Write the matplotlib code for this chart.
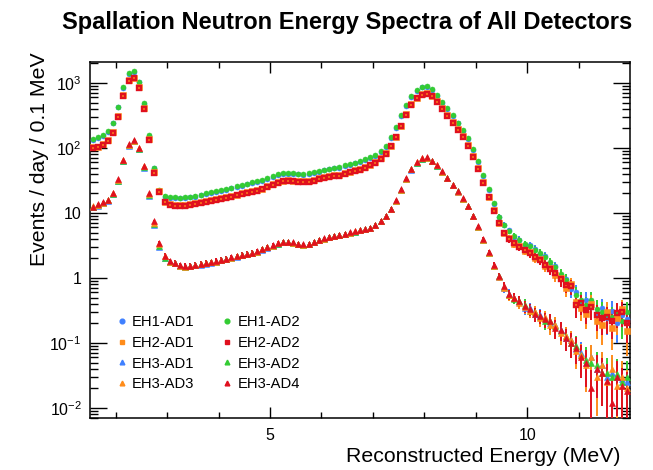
import numpy as np
import matplotlib
matplotlib.use("Agg")
import matplotlib.pyplot as plt
from matplotlib.lines import Line2D
from matplotlib.ticker import FixedLocator, FixedFormatter, NullFormatter

plt.rcParams['font.family'] = ['Liberation Sans', 'DejaVu Sans']
plt.rcParams['mathtext.fontset'] = 'custom'
plt.rcParams['mathtext.rm'] = 'Liberation Sans'
plt.rcParams['mathtext.it'] = 'Liberation Sans:italic'
plt.rcParams['mathtext.bf'] = 'Liberation Sans:bold'

# ---------------- data (events / day / 0.1 MeV), bins 1.5 - 12.0 MeV ----------------
BIN_LOW = 1.5
BIN_WIDTH = 0.1
N_BINS = 105
energy = BIN_LOW + BIN_WIDTH * (np.arange(N_BINS) + 0.5)

EH1_AD1 = [133, 142, 153, 179, 238, 419, 849, 1373, 1475, 1019,
           475, 153, 48.5, 21.9, 17.8, 17.1, 16.8, 16.7, 16.9, 17.3,
           17.9, 18.6, 19.4, 20.2, 20.9, 21.8, 22.8, 23.9, 25.0, 26.2,
           27.4, 28.6, 29.7, 31.5, 33.5, 35.9, 38.3, 39.8, 40.4, 39.8,
           39.1, 38.8, 39.3, 40.7, 43.2, 45.1, 46.6, 48.5, 50.0, 52.4,
           55.3, 57.7, 60.6, 65.0, 69.8, 75.7, 87, 105, 141, 204,
           310, 437, 611, 757, 854, 868, 776, 631, 500, 393,
           310, 238, 182, 136, 93, 60, 37, 22.5, 13.8, 8.7,
           6.6, 5.4, 4.3, 3.9, 3.2, 3.2, 2.8, 2.3, 2.2, 1.6,
           1.5, 1.05, 0.95, 0.68, 0.6, 0.42, 0.45, 0.36, 0.29, 0.35,
           0.24, 0.31, 0.2, 0.27, 0.23]

EH1_AD2 = [137, 146, 158, 185, 245, 432, 875, 1415, 1520, 1050,
           490, 158, 50, 22.6, 18.3, 17.6, 17.3, 17.2, 17.4, 17.8,
           18.5, 19.2, 20.0, 20.8, 21.5, 22.5, 23.5, 24.6, 25.8, 27.0,
           28.2, 29.5, 30.6, 32.5, 34.5, 37.0, 39.5, 41.0, 41.7, 41.0,
           40.3, 40.0, 40.5, 42.0, 44.5, 46.5, 48.0, 50.0, 51.5, 54.0,
           57.0, 59.5, 62.5, 67.0, 72.0, 78.0, 90, 108, 145, 210,
           320, 450, 630, 780, 880, 895, 800, 650, 515, 405,
           320, 245, 188, 140, 96, 62, 38, 23, 14, 8.8,
           6.5, 5.3, 4.4, 3.85, 3.35, 3.1, 2.7, 2.45, 2.1, 1.75,
           1.45, 1.15, 0.92, 0.75, 0.55, 0.45, 0.38, 0.45, 0.33, 0.30,
           0.28, 0.25, 0.28, 0.22, 0.30]

EH2_AD1 = [102, 105, 115, 132, 178, 305, 650, 1115, 1210, 855,
           405, 138, 42.5, 21.5, 14.9, 13.6, 13.3, 13.2, 13.4, 13.7,
           14.2, 14.7, 15.2, 15.8, 16.3, 16.7, 17.4, 18.2, 19.1, 20.0,
           20.7, 21.4, 22.3, 23.7, 25.7, 27.8, 29.9, 31.4, 31.9, 31.4,
           31.1, 30.9, 31.2, 32.4, 34.2, 35.8, 36.9, 37.7, 38.6, 41.2,
           43.3, 45.3, 47.9, 51.5, 55.6, 60.8, 69, 84, 109, 149,
           221, 335, 469, 597, 675, 690, 639, 520, 406, 319,
           252, 195, 150, 111, 74, 49.5, 29.5, 17.9, 11.0, 7.1,
           5.0, 4.1, 3.3, 3.05, 2.6, 2.5, 2.0, 1.95, 1.5, 1.4,
           1.1, 1.0, 0.7, 0.8, 0.42, 0.35, 0.28, 0.4, 0.22, 0.19,
           0.3, 0.17, 0.24, 0.33, 0.15]

EH2_AD2 = [99, 102, 111, 128, 172, 296, 630, 1085, 1180, 830,
           394, 133, 41, 20.8, 14.5, 13.3, 13.0, 12.9, 13.0, 13.3,
           13.8, 14.3, 14.8, 15.3, 15.8, 16.2, 16.9, 17.7, 18.6, 19.4,
           20.1, 20.8, 21.6, 23.0, 25.0, 27.0, 29.0, 30.5, 31.0, 30.5,
           30.2, 30.0, 30.3, 31.5, 33.2, 34.8, 35.8, 36.6, 37.5, 40.0,
           42.0, 44.0, 46.5, 50.0, 54.0, 59.0, 67, 82, 106, 145,
           215, 325, 455, 580, 655, 670, 620, 505, 394, 310,
           245, 189, 146, 108, 72, 48, 28.6, 17.4, 10.7, 6.9,
           4.9, 3.95, 3.4, 2.95, 2.7, 2.4, 2.1, 1.9, 1.6, 1.35,
           1.2, 0.95, 0.78, 0.74, 0.38, 0.41, 0.32, 0.36, 0.27, 0.24,
           0.25, 0.22, 0.29, 0.30, 0.20]

EH3_AD1 = [12.2, 13.0, 14.1, 15.5, 19.5, 31, 63, 109, 127, 97,
           50, 18.2, 6.5, 3.0, 2.0, 1.74, 1.67, 1.53, 1.48, 1.5,
           1.56, 1.6, 1.66, 1.72, 1.78, 1.86, 1.94, 2.03, 2.13, 2.23,
           2.33, 2.43, 2.53, 2.73, 2.93, 3.13, 3.37, 3.52, 3.57, 3.47,
           3.32, 3.22, 3.32, 3.52, 3.77, 4.02, 4.22, 4.42, 4.57, 4.77,
           4.97, 5.17, 5.37, 5.57, 5.86, 6.44, 7.4, 8.85, 11.3, 15.2,
           22.6, 33.5, 46.4, 59.4, 68.3, 70.8, 62.4, 53.4, 43, 34.1,
           26.7, 21.3, 16.3, 12.6, 8.9, 6.0, 3.82, 2.4, 1.52, 1.03,
           0.7, 0.57, 0.5, 0.42, 0.35, 0.34, 0.28, 0.27, 0.24, 0.2,
           0.19, 0.16, 0.12, 0.11, 0.08, 0.07, 0.05, 0.06, 0.04, 0.045,
           0.03, 0.035, 0.03, 0.028, 0.025]

EH3_AD2 = [12.4, 13.1, 14.2, 15.6, 19.8, 31.5, 64, 110, 128, 98,
           51, 18.6, 6.7, 3.1, 2.05, 1.76, 1.68, 1.54, 1.49, 1.51,
           1.57, 1.61, 1.67, 1.73, 1.79, 1.87, 1.95, 2.04, 2.14, 2.24,
           2.34, 2.44, 2.54, 2.74, 2.94, 3.14, 3.38, 3.53, 3.58, 3.48,
           3.33, 3.23, 3.33, 3.53, 3.78, 4.03, 4.23, 4.43, 4.58, 4.78,
           4.98, 5.18, 5.38, 5.58, 5.87, 6.46, 7.45, 8.9, 11.4, 15.3,
           22.8, 33.7, 46.6, 59.6, 68.5, 71, 62.6, 53.6, 43.2, 34.3,
           26.8, 21.4, 16.4, 12.7, 8.95, 6.05, 3.88, 2.44, 1.54, 1.06,
           0.73, 0.55, 0.48, 0.44, 0.39, 0.31, 0.3, 0.25, 0.22, 0.22,
           0.18, 0.15, 0.13, 0.1, 0.09, 0.065, 0.055, 0.05, 0.045, 0.035,
           0.035, 0.03, 0.033, 0.025, 0.03]

EH3_AD3 = [12.6, 13.2, 14.3, 15.9, 20.2, 32.5, 65.5, 112, 130, 100,
           52, 19.3, 7.1, 3.3, 2.15, 1.79, 1.69, 1.55, 1.49, 1.51,
           1.57, 1.61, 1.67, 1.73, 1.79, 1.87, 1.95, 2.04, 2.14, 2.24,
           2.34, 2.44, 2.54, 2.74, 2.94, 3.14, 3.39, 3.54, 3.59, 3.49,
           3.34, 3.24, 3.34, 3.54, 3.79, 4.04, 4.24, 4.44, 4.59, 4.79,
           4.99, 5.19, 5.39, 5.59, 5.88, 6.48, 7.45, 8.95, 11.4, 15.4,
           22.8, 33.8, 46.8, 59.8, 68.8, 71.2, 62.8, 53.8, 43.2, 34.2,
           26.8, 21.3, 16.3, 12.6, 8.9, 6.05, 3.85, 2.42, 1.53, 1.04,
           0.71, 0.54, 0.5, 0.41, 0.36, 0.31, 0.3, 0.24, 0.25, 0.19,
           0.19, 0.14, 0.13, 0.11, 0.075, 0.065, 0.045, 0.06, 0.03, 0.045,
           0.025, 0.04, 0.022, 0.03, 0.02]

EH3_AD4 = [12.3, 13.5, 14.6, 16.0, 20.5, 33, 66, 113, 131, 101,
           53, 20, 7.4, 3.4, 2.2, 1.8, 1.72, 1.56, 1.52, 1.53,
           1.6, 1.63, 1.7, 1.75, 1.82, 1.9, 1.98, 2.07, 2.16, 2.27,
           2.37, 2.46, 2.57, 2.77, 2.97, 3.17, 3.42, 3.57, 3.62, 3.52,
           3.37, 3.27, 3.37, 3.57, 3.82, 4.07, 4.27, 4.47, 4.62, 4.82,
           5.02, 5.22, 5.42, 5.62, 5.95, 6.55, 7.6, 9.1, 11.7, 15.8,
           23.5, 34.5, 47.5, 60.5, 69.5, 72, 63.5, 54.5, 44, 35,
           27.3, 21.8, 16.7, 13.0, 9.1, 6.2, 4.0, 2.5, 1.6, 1.07,
           0.74, 0.56, 0.5, 0.44, 0.37, 0.33, 0.28, 0.26, 0.23, 0.22,
           0.17, 0.16, 0.12, 0.1, 0.085, 0.06, 0.05, 0.02, 0.04, 0.035,
           0.026, 0.012, 0.03, 0.022, 0.018]

# live time (days) used for the statistical error bars of each hall
LIVETIME_DAYS = {"EH1": 20.0, "EH2": 20.0, "EH3": 60.0}

LABELS = ["EH1-AD1", "EH1-AD2", "EH2-AD1", "EH2-AD2",
          "EH3-AD1", "EH3-AD2", "EH3-AD3", "EH3-AD4"]
SERIES = [EH1_AD1, EH1_AD2, EH2_AD1, EH2_AD2, EH3_AD1, EH3_AD2, EH3_AD3, EH3_AD4]

C_BLUE = "#3f80ff"
C_GREEN = "#33cc33"
C_ORANGE = "#ff8c1a"
C_RED = "#e0101e"
STYLE = {
    "EH1-AD1": dict(color=C_BLUE, marker="o", ms=3.6, mfc=C_BLUE),
    "EH1-AD2": dict(color=C_GREEN, marker="o", ms=3.6, mfc=C_GREEN),
    "EH2-AD1": dict(color=C_ORANGE, marker="s", ms=4.0, mfc=C_ORANGE),
    "EH2-AD2": dict(color=C_RED, marker="s", ms=3.4, mfc="none"),
    "EH3-AD1": dict(color=C_BLUE, marker="^", ms=4.8, mfc=C_BLUE),
    "EH3-AD2": dict(color=C_GREEN, marker="^", ms=4.8, mfc=C_GREEN),
    "EH3-AD3": dict(color=C_ORANGE, marker="^", ms=4.8, mfc=C_ORANGE),
    "EH3-AD4": dict(color=C_RED, marker="^", ms=4.8, mfc=C_RED),
}

# ---------------- figure ----------------
W, H = 653, 470
fig = plt.figure(figsize=(W / 100, H / 100), dpi=100)
ax = fig.add_axes([90 / W, 1 - 418 / H, 540 / W, 356 / H])

for lab, vals in zip(LABELS, SERIES):
    y = np.asarray(vals, dtype=float)
    assert len(y) == N_BINS, lab
    T = LIVETIME_DAYS[lab[:3]]
    err = np.sqrt(y * T) / T
    lo = np.minimum(err, y * 0.995)
    st = STYLE[lab]
    ax.errorbar(energy, y, yerr=[lo, err], fmt=st["marker"], color=st["color"],
                ms=st["ms"], mfc=st["mfc"], mec=st["color"],
                mew=1.7 if st["mfc"] == "none" else 0.4,
                elinewidth=1.4, capsize=0, zorder=3)

ax.set_yscale("log")
ax.set_xlim(1.5, 12.0)
ax.set_ylim(0.007, 2100)

ax.xaxis.set_major_locator(FixedLocator([5, 10]))
ax.xaxis.set_major_formatter(FixedFormatter(["5", "10"]))
ax.xaxis.set_minor_locator(FixedLocator([2, 3, 4, 6, 7, 8, 9, 11]))
yt = [1e-2, 1e-1, 1, 10, 1e2, 1e3]
ax.yaxis.set_major_locator(FixedLocator(yt))
ax.yaxis.set_major_formatter(FixedFormatter([r"$10^{-2}$", r"$10^{-1}$", "1", "10",
                                             r"$10^{2}$", r"$10^{3}$"]))
minors = [m * 10.0 ** e for e in range(-3, 4) for m in range(2, 10)]
ax.yaxis.set_minor_locator(FixedLocator(minors))
ax.yaxis.set_minor_formatter(NullFormatter())

ax.tick_params(axis="both", which="both", direction="in", top=True, right=True,
               width=1.0, colors="black")
ax.tick_params(axis="x", which="major", length=8, pad=7, labelsize=11.5)
ax.tick_params(axis="x", which="minor", length=4.5)
ax.tick_params(axis="y", which="major", length=12, pad=6, labelsize=11.5)
ax.tick_params(axis="y", which="minor", length=6)
for sp in ax.spines.values():
    sp.set_linewidth(1.1)

fig.text(347 / W, 1 - 22 / H, "Spallation Neutron Energy Spectra of All Detectors",
         ha="center", va="center", fontsize=17, fontweight="bold")
fig.text(620 / W, 1 - 456 / H, "Reconstructed Energy (MeV)", ha="right", va="center",
         fontsize=15.3)
fig.text(40 / W, 1 - 52 / H, "Events / day / 0.1 MeV", ha="center", va="top",
         rotation=90, fontsize=15.3)

# legend (two columns, no frame)
order = ["EH1-AD1", "EH2-AD1", "EH3-AD1", "EH3-AD3",
         "EH1-AD2", "EH2-AD2", "EH3-AD2", "EH3-AD4"]
handles = []
for lab in order:
    st = STYLE[lab]
    handles.append(Line2D([], [], linestyle="none", marker=st["marker"], color=st["color"],
                          mfc=st["color"], mec=st["color"], ms=3.4))
leg = fig.legend(handles, order, loc="upper left", bbox_to_anchor=(116 / W, 1 - 315 / H),
                 ncol=2, frameon=False, fontsize=10.6, handlelength=0.8,
                 handletextpad=0.3, columnspacing=1.8, labelspacing=0.46,
                 borderpad=0, borderaxespad=0)

fig.savefig("out.png", dpi=100)
